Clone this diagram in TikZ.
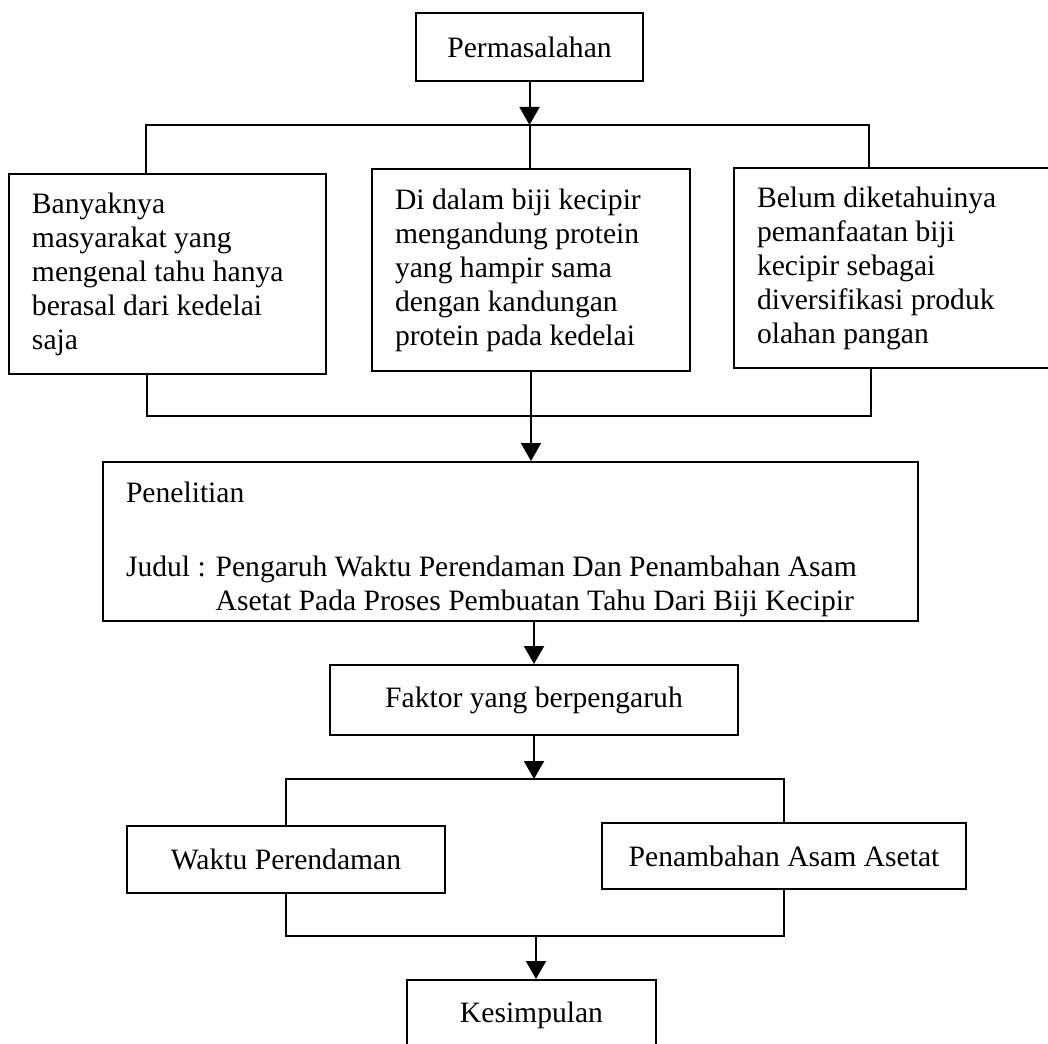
\documentclass[tikz,border=0pt]{standalone}
\usepackage{fontspec}
\setmainfont{Liberation Serif}
\usetikzlibrary{arrows.meta}

\begin{document}
\begin{tikzpicture}[x=0.5pt,y=-0.5pt,line width=1pt,>={Triangle[width=10pt,length=9pt]},
	box/.style={draw, rectangle, inner xsep=11.5pt, inner ysep=0pt, align=flush left, font=\fontsize{14.8}{17}\selectfont}]
	\useasboundingbox (0,0) rectangle (1048,1043);
	\node (P)  at ( 529.5,   47)	[box, minimum width=113.5pt, minimum height=34pt]	{Permasalahan};
	\node (M1) at ( 167.5,  274)	[box, text width=135.5pt, minimum height=100pt]	{Banyaknya\\ masyarakat yang\\ mengenal tahu hanya\\ berasal dari kedelai\\ saja};
	\node (M2) at ( 531,    270)	[box, text width=136pt, minimum height=101pt]	{Di dalam biji kecipir\\ mengandung protein\\ yang hampir sama\\ dengan kandungan\\ protein pada kedelai};
	\node (M3) at ( 895,    268)	[box, text width=138pt, minimum height=100pt]	{Belum diketahuinya\\ pemanfaatan biji\\ kecipir sebagai\\ diversifikasi produk\\ olahan pangan};
	\node (R)  at ( 510.5,  541.5)	[box, text width=384.5pt, minimum height=79.5pt]	{\rule{0pt}{18pt}Penelitian\\[20pt] Judul : Pengaruh Waktu Perendaman Dan Penambahan Asam\\ \phantom{Judul : }Asetat Pada Proses Pembuatan Tahu Dari Biji Kecipir};
	\node (F)  at ( 534,    700)	[box, minimum width=204pt, minimum height=35pt]	{Faktor yang berpengaruh};
	\node (F1) at ( 286,    859.5)	[box, minimum width=159pt, minimum height=33.5pt]	{Waktu Perendaman};
	\node (F2) at ( 784,    856)	[box, minimum width=182pt, minimum height=33pt]	{Penambahan Asam Asetat};
	\node (K)  at ( 531.5, 1015)	[box, minimum width=124.5pt, minimum height=35pt]	{Kesimpulan};
	\coordinate (J1) at (529.5, 125);
	\coordinate (J2) at (146,   125);
	\coordinate (J3) at (869,   125);
	\coordinate (J4) at (147,   416);
	\coordinate (J5) at (871,   416);
	\coordinate (J6) at (534,   779);
	\coordinate (J7) at (536,   936);
	\draw[->] (P) -- (J1);
	\draw (M1.north -| J2) -- (J2) -- (J3) -- (M3.north -| J3);
	\draw (J1) -- (M2.north -| J1);
	\draw (M1.south -| J4) -- (J4) -- (J5) -- (M3.south -| J5);
	\draw[->] (M2) -- (M2 |- R.north);
	\draw[->] (F |- R.south) -- (F);
	\draw[->] (F) -- (J6);
	\draw (F1) |- (J6) -| (F2);
	\draw (F1) |- (J7) -| (F2);
	\draw[->] (J7) -- (J7 |- K.north);
\end{tikzpicture}
\end{document}
